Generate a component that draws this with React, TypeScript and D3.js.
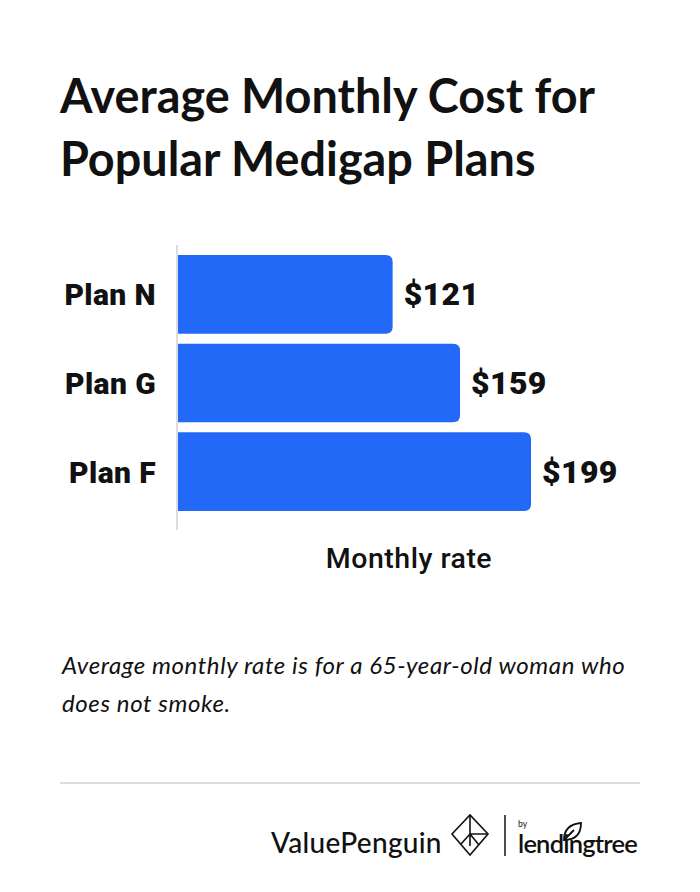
import React from "react";
import * as d3 from "d3";

const categories = ["Plan N", "Plan G", "Plan F"];
const values = [121, 159, 199];
const valueLabels = ["$121", "$159", "$199"];
const titleLines = ["Average Monthly Cost for", "Popular Medigap Plans"];
const axisTitle = "Monthly rate";
const noteLines = ["Average monthly rate is for a 65-year-old woman who", "does not smoke."];

const W = 700;
const H = 892;
const BLUE = "#2369F8";
const INK = "#111111";

function barPath(x0: number, x1: number, y0: number, h: number, r: number) {
  const p = d3.path();
  p.moveTo(x0, y0);
  p.lineTo(x1 - r, y0);
  p.quadraticCurveTo(x1, y0, x1, y0 + r);
  p.lineTo(x1, y0 + h - r);
  p.quadraticCurveTo(x1, y0 + h, x1 - r, y0 + h);
  p.lineTo(x0, y0 + h);
  p.closePath();
  return p.toString();
}

export default function App() {
  const x0 = 178;
  const x = d3.scaleLinear().domain([0, 199]).range([x0, 531]);
  const y = d3.scaleBand<string>().domain(categories).range([255, 511]).paddingInner(0.113).paddingOuter(0);
  const bw = y.bandwidth();

  return (
    <svg
      width={W}
      height={H}
      style={{ position: "absolute", left: 0, top: 0, background: "#fff" }}
    >
      <rect x={0} y={0} width={W} height={H} fill="#fff" />
      {titleLines.map((t, i) => (
        <text
          key={t}
          x={60}
          y={113 + i * 63}
          fontFamily="Lato"
          fontWeight={700}
          fontSize={46.8}
          fill={INK}
        >
          {t}
        </text>
      ))}

      <line x1={177} x2={177} y1={245} y2={530} stroke="#dddddd" strokeWidth={2} />

      {categories.map((c, i) => {
        const yy = y(c)!;
        return (
          <g key={c}>
            <path d={barPath(x0, x(values[i]), yy, bw, 7)} fill={BLUE} />
            <text
              x={156}
              y={yy + bw / 2 + 11}
              textAnchor="end"
              fontFamily="Roboto"
              fontWeight={900}
              fontSize={30}
              letterSpacing={0.4}
              fill={INK}
            >
              {c}
            </text>
            <text
              x={x(values[i]) + 11}
              y={yy + bw / 2 + 11}
              fontFamily="Roboto"
              fontWeight={900}
              fontSize={32}
              letterSpacing={0.4}
              fill={INK}
            >
              {valueLabels[i]}
            </text>
          </g>
        );
      })}

      <text
        x={409}
        y={568}
        textAnchor="middle"
        fontFamily="Roboto"
        fontWeight={500}
        fontSize={28.5}
        letterSpacing={0.5}
        fill={INK}
      >
        {axisTitle}
      </text>

      {noteLines.map((t, i) => (
        <text
          key={t}
          x={62}
          y={674 + i * 38}
          fontFamily="Lato"
          fontStyle="italic"
          fontSize={24}
          letterSpacing={0.6}
          fill={INK}
        >
          {t}
        </text>
      ))}

      <line x1={60} x2={640} y1={783} y2={783} stroke="#dddddd" strokeWidth={2} />

      {/* logo */}
      <text x={271} y={853} fontFamily="Lato" fontWeight={500} fontSize={28} letterSpacing={0.3} fill={INK}>
        ValuePenguin
      </text>
      <g fill="none" stroke={INK} strokeWidth={1.6} strokeLinejoin="miter">
        <path d="M452,834 L470,815 L488,834 L470,855 Z" />
        <path d="M470,815 L470,846 M470,834 L488,834 M470,834 L461,844 M470,834 L479,845" />
      </g>
      <line x1={505} x2={505} y1={815} y2={856} stroke={INK} strokeWidth={1.5} />
      <text x={518} y={827} fontFamily="Lato" fontSize={8.5} fill={INK}>
        by
      </text>
      <text x={518} y={853} fontFamily="Lato" fontWeight={600} fontSize={25.5} letterSpacing={-0.8} fill={INK}>
        lendingtree
      </text>
      <path d="M564,840 C564,830 570,824 581,823 C581,834 575,840 564,840 Z M564,840 L574,830" fill="none" stroke={INK} strokeWidth={1.8} />
    </svg>
  );
}
